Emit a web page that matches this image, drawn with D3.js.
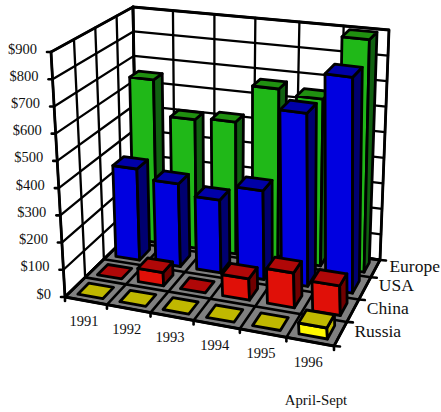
<!DOCTYPE html>
<html><head><meta charset="utf-8">
<script src="https://cdn.jsdelivr.net/npm/d3@7"></script>
<style>html,body{margin:0;padding:0;background:#fff}svg{display:block}text{font-family:"Liberation Serif","Times New Roman",serif;fill:#111}</style>
</head><body><svg id="c" width="441" height="412"></svg>
<script>
const years=["1991","1992","1993","1994","1995","1996"];
const seriesNames=["Russia","China","USA","Europe"];
const russia=[0,0,0,0,0,40];
const china=[0,50,0,80,130,110];
const usa=[355,320,280,340,660,820];
const europe=[650,510,520,670,650,900];
const valueTicks=[0,100,200,300,400,500,600,700,800,900];
const seriesValues=[russia,china,usa,europe];
const palette=[
 {front:"#fff800",top:"#c0b800",side:"#c0b800"},
 {front:"#e01008",top:"#b00808",side:"#700000"},
 {front:"#0000e0",top:"#0000a8",side:"#000070"},
 {front:"#20b818",top:"#209010",side:"#106010"}];

// Box corners: front-left, front-right, back-right, back-left
const floorBox=[[65,297],[334,346],[380,260],[137,227]];
const topBox=[[51,52],[322,98],[389,30],[133,7]];
function bilinear(q){
  return (u,v)=>[0,1].map(n=>(1-v)*((1-u)*q[0][n]+u*q[1][n])+v*((1-u)*q[3][n]+u*q[2][n]));
}
const floorH=bilinear(floorBox),topH=bilinear(topBox);

const xS=d3.scaleLinear().domain([0,1,2,3,4,5,6]).range([0,.156,.318,.478,.65,.823,1]);
const zS=d3.scaleLinear().domain([0,1,2,3,4]).range([0,.28,.54,.80,1]);
const yS=d3.scaleLinear().domain([0,900]).range([0,1]);
function P(i,k,val){
  const u=xS(i),v=zS(k),t=yS(val);
  const a=floorH(u,v),b=topH(u,v);
  return [a[0]+(b[0]-a[0])*t,a[1]+(b[1]-a[1])*t];
}
const svg=d3.select("#c");
function poly(pts,fill,sw){
  svg.append("polygon").attr("points",pts.map(p=>p.map(n=>n.toFixed(1)).join(",")).join(" "))
   .attr("fill",fill).attr("stroke","#000").attr("stroke-width",sw||2.8).attr("stroke-linejoin","round");
}
function line(a,b,sw){
  svg.append("line").attr("x1",a[0]).attr("y1",a[1]).attr("x2",b[0]).attr("y2",b[1])
   .attr("stroke","#000").attr("stroke-width",sw||2.3).attr("stroke-linecap","round");
}
const nx=years.length,nz=seriesNames.length,maxV=900;
// Walls
poly([P(0,0,0),P(0,nz,0),P(0,nz,maxV),P(0,0,maxV)],"#fff");
poly([P(0,nz,0),P(nx,nz,0),P(nx,nz,maxV),P(0,nz,maxV)],"#fff");
valueTicks.forEach(t=>{line(P(0,0,t),P(0,nz,t));line(P(0,nz,t),P(nx,nz,t));});
d3.range(nz+1).forEach(k=>line(P(0,k,0),P(0,k,maxV)));
d3.range(nx+1).forEach(i=>line(P(i,nz,0),P(i,nz,maxV)));
// Floor
poly([P(0,0,0),P(nx,0,0),P(nx,nz,0),P(0,nz,0)],"#808080");
d3.range(nz+1).forEach(k=>line(P(0,k,0),P(nx,k,0),2.6));
d3.range(nx+1).forEach(i=>line(P(i,0,0),P(i,nz,0),2.6));
// Ticks
valueTicks.forEach(t=>{const p=P(0,0,t);line([p[0]-4,p[1]],p,2.6);});
d3.range(nx+1).forEach(i=>{const p=P(i,0,0);line(p,[p[0],p[1]+4],2.6);});
d3.range(nz+1).forEach(k=>{const p=P(nx,k,0);line(p,[p[0]+6,p[1]+0.5],2.6);});
// Bars, back row first
const insetX=0.2,insetZ=0.22;
for(let k=nz-1;k>=0;k--){
  for(let i=0;i<nx;i++){
    const v=seriesValues[k][i],c=palette[k];
    const x0=i+insetX,x1=i+1-insetX,z0=k+insetZ,z1=k+1-insetZ;
    if(v>0){
      poly([P(x0,z0,0),P(x1,z0,0),P(x1,z0,v),P(x0,z0,v)],c.front);
      poly([P(x1,z0,0),P(x1,z1,0),P(x1,z1,v),P(x1,z0,v)],c.side);
    }
    poly([P(x0,z0,v),P(x1,z0,v),P(x1,z1,v),P(x0,z1,v)],c.top);
  }
}
// Labels
valueTicks.forEach(t=>{const p=P(0,0,t);
 svg.append("text").attr("x",p[0]-14).attr("y",p[1]+1.5).attr("text-anchor","end").attr("font-size",14.5).text("$"+t);});
years.forEach((y,i)=>{const p=P(i+0.5,0,0);
 svg.append("text").attr("x",p[0]-2).attr("y",p[1]+25).attr("text-anchor","middle").attr("font-size",14.5).text(y);});
seriesNames.forEach((s,k)=>{const p=P(nx,k+0.5,0);
 svg.append("text").attr("x",p[0]+14).attr("y",p[1]+3).attr("font-size",17.5).text(s);});
svg.append("text").attr("x",316).attr("y",405).attr("text-anchor","middle").attr("font-size",14.8).text("April-Sept");
</script></body></html>
